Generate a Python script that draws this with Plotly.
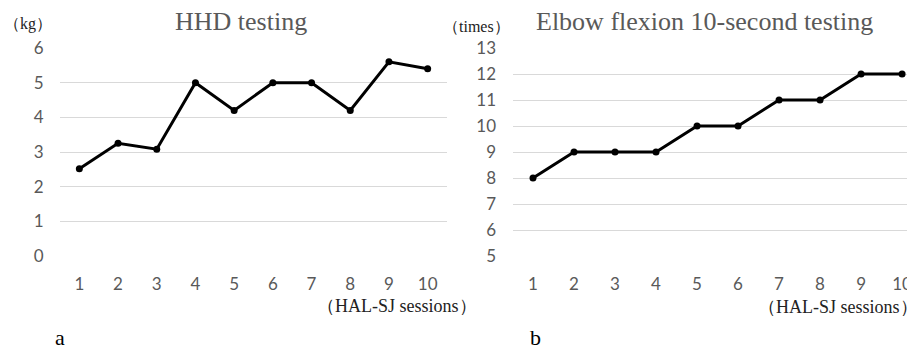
import plotly.graph_objects as go

sessions = ["1", "2", "3", "4", "5", "6", "7", "8", "9", "10"]
hhd_kg = [2.52, 3.25, 3.08, 5.0, 4.2, 5.0, 5.0, 4.2, 5.6, 5.4]
elbow_times = [8, 9, 9, 9, 10, 10, 11, 11, 12, 12]

W, H = 907, 350
fig = go.Figure()

line_style = dict(color="black", width=3)
marker_style = dict(color="black", size=7)

fig.add_trace(go.Scatter(x=sessions, y=hhd_kg, mode="lines+markers",
                         line=line_style, marker=marker_style,
                         xaxis="x", yaxis="y", showlegend=False))
fig.add_trace(go.Scatter(x=sessions, y=elbow_times, mode="lines+markers",
                         line=line_style, marker=marker_style,
                         xaxis="x2", yaxis="y2", showlegend=False))

tick_font = dict(family="Lato, Carlito, sans-serif", size=17, color="#595959")
grid = "#d9d9d9"
ydom = [(H - 256) / H, (H - 48) / H]

common_x = dict(type="category", showgrid=False, zeroline=False, showline=False,
                ticks="outside", ticklen=13, tickcolor="rgba(0,0,0,0)",
                tickfont=tick_font, automargin=False)
common_y = dict(showgrid=True, gridcolor=grid, gridwidth=1, zeroline=False,
                showline=False, ticks="outside", ticklen=12,
                tickcolor="rgba(0,0,0,0)", tickfont=tick_font, dtick=1,
                automargin=False)

fig.update_layout(
    template="none",
    width=W, height=H, autosize=False,
    margin=dict(l=0, r=0, t=0, b=0, pad=0),
    paper_bgcolor="white", plot_bgcolor="white",
    xaxis=dict(domain=[60 / W, 447 / W], range=[-0.5, 9.5], anchor="y", **common_x),
    yaxis=dict(domain=ydom, range=[0, 6], anchor="x", **common_y),
    xaxis2=dict(domain=[512.5 / W, 1.0], range=[-0.5, 9.12], anchor="y2", **common_x),
    yaxis2=dict(domain=ydom, range=[5, 13], anchor="x2", **common_y),
)

serif = "Liberation Serif, Times New Roman, serif"
ann = [
    dict(x=241, y=21, text="HHD testing", size=26, color="#595959"),
    dict(x=704, y=21, text="Elbow flexion 10-second testing", size=26, color="#595959"),
    dict(x=28, y=24, text="（kg）", size=16, color="#222222"),
    dict(x=476, y=26, text="（times）", size=16, color="#222222"),
    dict(x=397, y=306, text="（HAL-SJ sessions）", size=18, color="#222222"),
    dict(x=838, y=307, text="（HAL-SJ sessions）", size=18, color="#222222"),
    dict(x=60, y=337, text="a", size=22, color="black"),
    dict(x=535, y=337, text="b", size=22, color="black"),
]
for a in ann:
    fig.add_annotation(x=a["x"] / W, y=1 - a["y"] / H, xref="paper", yref="paper",
                       text=a["text"], showarrow=False, xanchor="center", yanchor="middle",
                       font=dict(family=serif, size=a["size"], color=a["color"]))

fig.write_html("out.html", config={"displayModeBar": False, "responsive": False},
               post_script="document.body.style.margin='0';document.body.style.overflow='hidden';")
